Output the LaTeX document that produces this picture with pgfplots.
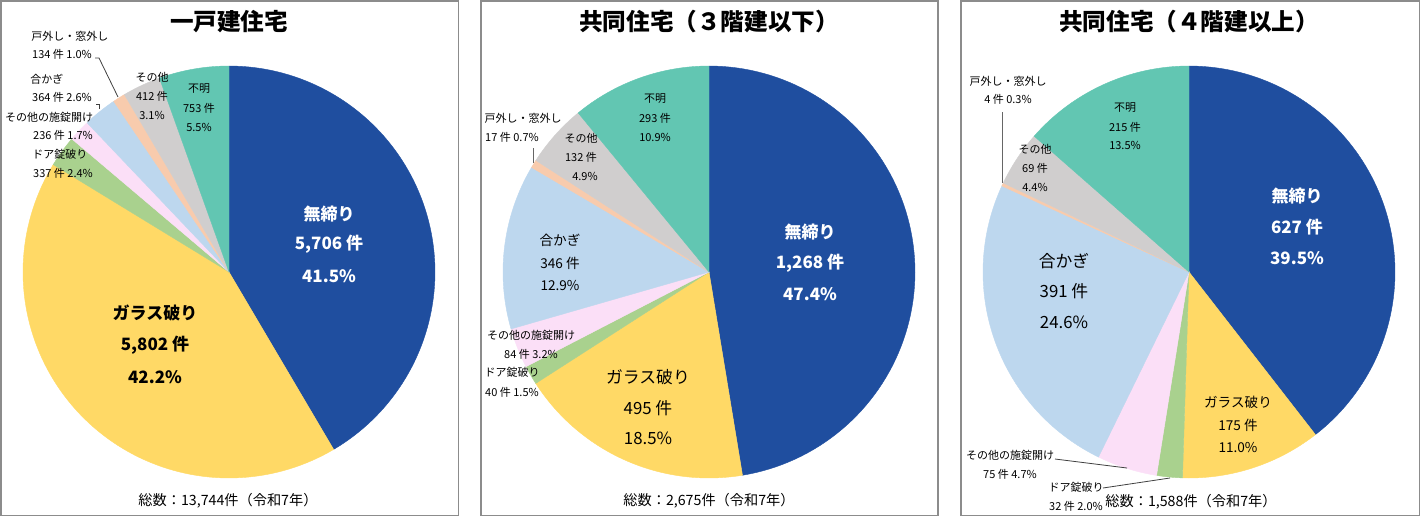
\documentclass[border=0pt]{standalone}
\usepackage{pgfplots}
\usepackage{pgfplotstable}
\pgfplotsset{compat=1.18}
\usepackage{fontspec}
\setmainfont{Noto Sans CJK JP}

\definecolor{cMu}{HTML}{1F4E9F}
\definecolor{cGa}{HTML}{FFD966}
\definecolor{cDo}{HTML}{A9D18E}
\definecolor{cSe}{HTML}{FBDFF7}
\definecolor{cAi}{HTML}{BDD7EE}
\definecolor{cTo}{HTML}{F8CBAD}
\definecolor{cOt}{HTML}{D0CECE}
\definecolor{cFu}{HTML}{62C6B2}
\definecolor{frm}{HTML}{8C8C8C}

% counts per method, clockwise from 12 o'clock
\pgfplotstableread{
cat count colour
mujime 5706 cMu
garasu 5802 cGa
doa 337 cDo
sejou 236 cSe
aikagi 364 cAi
tomado 134 cTo
sonota 412 cOt
fumei 753 cFu
}\dataA
\pgfplotstableread{
cat count colour
mujime 1268 cMu
garasu 495 cGa
doa 40 cDo
sejou 84 cSe
aikagi 346 cAi
tomado 17 cTo
sonota 132 cOt
fumei 293 cFu
}\dataB
\pgfplotstableread{
cat count colour
mujime 627 cMu
garasu 175 cGa
doa 32 cDo
sejou 75 cSe
aikagi 391 cAi
tomado 4 cTo
sonota 69 cOt
fumei 215 cFu
}\dataC

\newcommand\pieslices[1]{%
  \pgfplotstablegetrowsof{#1}%
  \pgfmathtruncatemacro\last{\pgfplotsretval-1}%
  \def\total{0}%
  \pgfplotsforeachungrouped \i in {0,...,\last}{%
    \pgfplotstablegetelem{\i}{count}\of{#1}%
    \pgfmathsetmacro\total{\total+\pgfplotsretval}}%
  \def\cum{0}%
  \pgfplotsforeachungrouped \i in {0,...,\last}{%
    \pgfplotstablegetelem{\i}{count}\of{#1}%
    \pgfmathsetmacro\a{90-360*(\cum/\total)}%
    \pgfmathsetmacro\cum{\cum+\pgfplotsretval}%
    \pgfmathsetmacro\b{90-360*(\cum/\total)}%
    \pgfplotstablegetelem{\i}{colour}\of{#1}%
    \edef\temp{\noexpand\addplot[fill=\pgfplotsretval, draw=\pgfplotsretval,
      line width=0.2pt, domain=\b:\a, samples=90] ({cos(x)},{sin(x)}) -- (0,0) -- cycle;}%
    \temp}%
}

\pgfplotsset{pie/.style={hide axis, clip=false, scale only axis,
  width=206pt, height=206pt, xmin=-1, xmax=1, ymin=-1, ymax=1, anchor=center}}

\newcommand\T[4][]{\node[inner sep=0pt, #1] at (#2,{516-#3}) {#4};}

\begin{document}
\begin{tikzpicture}[x=0.5pt, y=0.5pt,
  ttl/.style={font=\fontsize{11.8}{14}\selectfont\bfseries},
  big/.style={font=\fontsize{8.5}{10}\selectfont\bfseries},
  bigr/.style={font=\fontsize{8.4}{10}\selectfont},
  mid/.style={font=\fontsize{6.8}{8}\selectfont},
  sm/.style={font=\fontsize{5.5}{7}\selectfont},
  tot/.style={font=\fontsize{7.1}{8}\selectfont},
  wh/.style={text=white}]
\useasboundingbox (0,0) rectangle (1420,516);
\draw[frm, line width=0.75pt] (0.75,0.75) rectangle (458.5,515.25);
\draw[frm, line width=0.75pt] (481,0.75) rectangle (938,515.25);
\draw[frm, line width=0.75pt] (961,0.75) rectangle (1419.25,515.25);

\begin{axis}[pie, at={(114.5pt,122pt)}]
  \pieslices{\dataA}
\end{axis}
\begin{axis}[pie, at={(354.5pt,122pt)}]
  \pieslices{\dataB}
\end{axis}
\begin{axis}[pie, at={(594.5pt,122pt)}]
  \pieslices{\dataC}
\end{axis}

% panel 1
\T[ttl]{229}{22}{一戸建住宅}
\T[big,wh]{329}{214}{無締り}
\T[big,wh]{329}{244}{5,706 件}
\T[big,wh]{329}{276}{41.5\%}
\T[big]{155}{313}{ガラス破り}
\T[big]{155}{345}{5,802 件}
\T[big]{155}{377}{42.2\%}
\T[sm]{199}{89}{不明}
\T[sm]{199}{108}{753 件}
\T[sm]{199}{127}{5.5\%}
\T[sm]{152}{77}{その他}
\T[sm]{152}{96}{412 件}
\T[sm]{152}{115}{3.1\%}
\T[sm]{70}{36}{戸外し・窓外し}
\T[sm]{62}{54}{134 件 1.0\%}
\T[sm]{47}{79}{合かぎ}
\T[sm]{62}{97}{364 件 2.6\%}
\T[sm]{49}{117}{その他の施錠開け}
\T[sm]{63}{135}{236 件 1.7\%}
\T[sm]{60}{154}{ドア錠破り}
\T[sm]{63}{173}{337 件 2.4\%}
\draw[black!75, line width=0.4pt] (95,{516-58}) -- (99,{516-58}) -- (118,{516-97});
\draw[black!75, line width=0.4pt] (96,{516-104}) -- (99,{516-104}) -- (99,{516-109});
\T[tot]{228}{501}{総数：13,744件（令和7年）}

% panel 2
\T[ttl]{709}{22}{共同住宅（３階建以下）}
\T[big,wh]{810}{232}{無締り}
\T[big,wh]{810}{263}{1,268 件}
\T[big,wh]{810}{294}{47.4\%}
\T[bigr]{648}{377}{ガラス破り}
\T[bigr]{648}{408}{495 件}
\T[bigr]{648}{438}{18.5\%}
\T[mid]{560}{240}{合かぎ}
\T[mid]{560}{263}{346 件}
\T[mid]{560}{286}{12.9\%}
\T[sm]{655}{99}{不明}
\T[sm]{655}{118}{293 件}
\T[sm]{655}{137}{10.9\%}
\T[sm]{581}{138}{その他}
\T[sm]{581}{157}{132 件}
\T[sm]{585}{176}{4.9\%}
\T[sm]{523}{118}{戸外し・窓外し}
\T[sm]{512}{137}{17 件 0.7\%}
\draw[black!60, line width=0.4pt] (533,{516-148}) -- (533,{516-163});
\T[sm]{531}{335}{その他の施錠開け}
\T[sm]{531}{354}{84 件 3.2\%}
\T[sm]{512}{372}{ドア錠破り}
\T[sm]{512}{392}{40 件 1.5\%}
\T[tot]{709}{501}{総数：2,675件（令和7年）}

% panel 3
\T[ttl]{1189}{22}{共同住宅（４階建以上）}
\T[big,wh]{1297}{196}{無締り}
\T[big,wh]{1297}{227}{627 件}
\T[big,wh]{1297}{258}{39.5\%}
\T[bigr]{1064}{261}{合かぎ}
\T[bigr]{1064}{291}{391 件}
\T[bigr]{1064}{322}{24.6\%}
\T[mid]{1238}{402}{ガラス破り}
\T[mid]{1238}{425}{175 件}
\T[mid]{1238}{448}{11.0\%}
\T[sm]{1125}{108}{不明}
\T[sm]{1125}{127}{215 件}
\T[sm]{1125}{145}{13.5\%}
\T[sm]{1035}{149}{その他}
\T[sm]{1035}{168}{69 件}
\T[sm]{1035}{187}{4.4\%}
\T[sm]{1008}{81}{戸外し・窓外し}
\T[sm]{1008}{99}{4 件 0.3\%}
\draw[black!60, line width=0.4pt] (1002,{516-112}) -- (1002,{516-183});
\T[sm]{1010}{455}{その他の施錠開け}
\T[sm]{1010}{474}{75 件 4.7\%}
\draw[black!75, line width=0.4pt] (1055,{516-459}) -- (1127,{516-468});
\T[sm]{1076}{487}{ドア錠破り}
\T[sm]{1076}{506}{32 件 2.0\%}
\draw[black!75, line width=0.4pt] (1103,{516-488}) -- (1170,{516-478});
\T[tot]{1191}{502}{総数：1,588件（令和7年）}
\end{tikzpicture}
\end{document}
